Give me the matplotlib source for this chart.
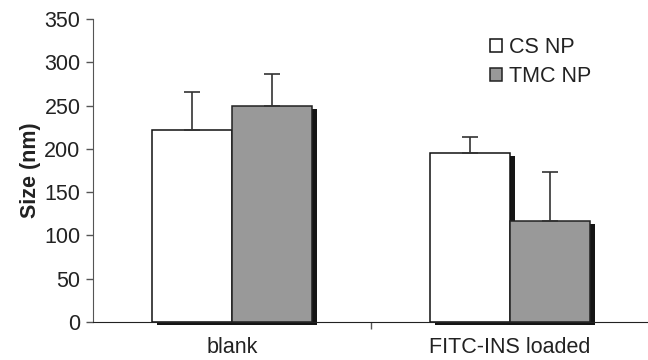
import numpy as np
import matplotlib.pyplot as plt
import matplotlib.transforms as mtransforms

plt.rcParams['font.family'] = ['Liberation Sans', 'DejaVu Sans']

categories = ['blank', 'FITC-INS loaded']
series = ['CS NP', 'TMC NP']
cs_size = [222, 195]
tmc_size = [250, 117]
cs_err = [44, 19]
tmc_err = [36, 56]
yticks = [0, 50, 100, 150, 200, 250, 300, 350]

fig = plt.figure(figsize=(6.48, 3.6), dpi=100)
ax = fig.add_axes([93 / 648, 1 - 322 / 360, 556 / 648, 303 / 360])

x = np.arange(len(categories))
w = 0.287

# тень справа от столбиков
shift = mtransforms.ScaledTranslation(5 / 100, -3 / 100, fig.dpi_scale_trans)
for vals, off in [(cs_size, -w / 2), (tmc_size, w / 2)]:
    sh = ax.bar(x + off, vals, w, color='#151515', edgecolor='none', zorder=1)
    for p in sh:
        p.set_transform(ax.transData + shift)
        p.set_clip_on(False)

ax.bar(x - w / 2, cs_size, w, color='white', edgecolor='#111111', linewidth=1.1,
       label=series[0], zorder=2)
ax.bar(x + w / 2, tmc_size, w, color='#999999', edgecolor='#222222', linewidth=1.1,
       label=series[1], zorder=2)

ax.errorbar(x - w / 2, cs_size, yerr=[np.zeros(2), cs_err], fmt='none',
            ecolor='#333333', elinewidth=1.2, capsize=5.5, capthick=1.2, zorder=3)
ax.errorbar(x + w / 2, tmc_size, yerr=[np.zeros(2), tmc_err], fmt='none',
            ecolor='#333333', elinewidth=1.2, capsize=5.5, capthick=1.2, zorder=3)

ax.set_xlim(-0.5, 1.5)
ax.set_ylim(0, 350)
ax.set_yticks(yticks)
ax.set_xticks(x)
ax.set_xticklabels(categories)
ax.set_xticks([0.5, 1.5], minor=True)
ax.tick_params(axis='x', which='major', length=0, pad=11, labelsize=15.5, labelcolor='#222222')
ax.tick_params(axis='x', which='minor', length=5, width=1, color='#555555')
ax.tick_params(axis='y', length=5, width=1, color='#555555', labelsize=15.5,
               labelcolor='#222222', pad=4)

for s in ['top', 'right']:
    ax.spines[s].set_visible(False)
ax.spines['left'].set_color('#555555')
ax.spines['bottom'].set_color('#222222')

ax.set_ylabel('Size (nm)', fontsize=15.5, fontweight='bold', color='#222222', labelpad=2)

ax.legend(loc='upper left', bbox_to_anchor=(0.68, 1.005), frameon=False, fontsize=15.5,
          handlelength=0.55, handleheight=0.55, handletextpad=0.3, labelspacing=0.4,
          labelcolor='#222222')

fig.savefig('out.png', dpi=100)
